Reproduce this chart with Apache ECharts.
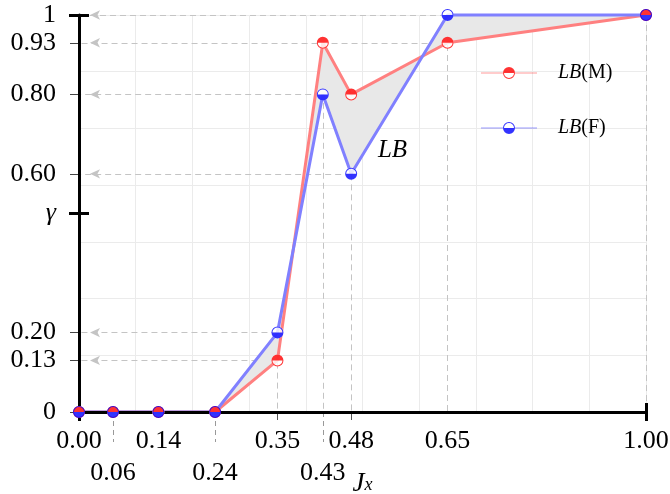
<!DOCTYPE html>
<html><head><meta charset="utf-8">
<script src="https://cdn.jsdelivr.net/npm/echarts@6/dist/echarts.min.js"></script>
<style>html,body{margin:0;padding:0;background:#fff}#c{width:670px;height:494px}</style>
</head><body><div id="c"></div>
<script>
// ---- data ----
const jx  = [0.00, 0.06, 0.14, 0.24, 0.35, 0.43, 0.48, 0.65, 1.00];
const lbM = [0, 0, 0, 0, 0.13, 0.93, 0.80, 0.93, 1.00];
const lbF = [0, 0, 0, 0, 0.20, 0.80, 0.60, 1.00, 1.00];
const seriesNames = ['LB(M)', 'LB(F)'];
const xTickRow1 = [0.00, 0.14, 0.35, 0.48, 0.65, 1.00];
const xTickRow2 = [0.06, 0.24, 0.43];
const xShortTicks = [0.35, 0.48];
const yTickValues = [0, 0.13, 0.20, 0.50, 0.60, 0.80, 0.93, 1];
const yTickLabels = ['0', '0.13', '0.20', 'γ', '0.60', '0.80', '0.93', '1'];
const yThickTicks = [0.50, 1];
const areaLabel = 'LB';

// ---- helpers ----
const FONT = 'Liberation Serif';
const ring = (cx) => `M${cx-6},6A6,6 0 1,1 ${cx+6},6A6,6 0 1,1 ${cx-6},6Z M${cx-5},6A5,5 0 1,0 ${cx+5},6A5,5 0 1,0 ${cx-5},6Z`;
const halfTop = (cx) => ` M${cx-6},6A6,6 0 0,1 ${cx+6},6Z`;
const halfBottom = (cx) => ` M${cx+6},6A6,6 0 0,1 ${cx-6},6Z`;
const legLines = 'M0,5.7L22,5.7L22,6.3L0,6.3Z M34,5.7L56,5.7L56,6.3L34,6.3Z ';
const symM = 'path://' + ring(6) + halfTop(6);
const symF = 'path://' + ring(6) + halfBottom(6);
const legM = 'path://' + legLines + ring(28) + halfTop(28);
const legF = 'path://' + legLines + ring(28) + halfBottom(28);

const ptsM = jx.map((x, i) => [x, lbM[i]]);
const ptsF = jx.map((x, i) => [x, lbF[i]]);

// guide lines derived from the data
const hG = {}, vG = {};
[...ptsM, ...ptsF].forEach(([x, y]) => {
  if (y > 0) {
    hG[y] = Math.max(hG[y] ?? -1, x);
    vG[x] = Math.max(vG[x] ?? -1, y);
  }
});
const guideData = [];
Object.keys(hG).forEach(k => guideData.push([
  {coord: [hG[k], +k], symbol: 'none'},
  {coord: [0, +k], symbol: 'arrow'}
]));
Object.keys(vG).forEach(k => guideData.push([
  {coord: [+k, vG[k]], symbol: 'none'},
  {coord: [+k, 0], symbol: 'none'}
]));

const yLabelFmt = (v) => {
  const i = yTickValues.findIndex(t => Math.abs(t - v) < 1e-9);
  const s = i >= 0 ? yTickLabels[i] : '';
  return s === 'γ' ? '{g|γ}' : s;
};

const hidden = {axisLine: {show: false, onZero: false}, axisTick: {show: false}, axisLabel: {show: false}, splitLine: {show: false}};
const ax = (o) => Object.assign({type: 'value', min: 0, max: 1}, JSON.parse(JSON.stringify(hidden)), o);

const chart = echarts.init(document.getElementById('c'));
chart.setOption({
  animation: false,
  grid: {left: 79, right: 24, top: 15, bottom: 82, containLabel: false, outerBoundsMode: 'none'},
  legend: {
    orient: 'vertical', left: 476, top: 58, itemWidth: 56, itemHeight: 12, itemGap: 35,
    selectedMode: false,
    data: [{name: seriesNames[0], icon: legM}, {name: seriesNames[1], icon: legF}],
    formatter: n => '{i|LB}' + n.slice(2),
    textStyle: {fontFamily: FONT, fontSize: 20, color: '#000', lineHeight: 12, padding: [0, 0, 0, 16],
      rich: {i: {fontFamily: FONT, fontStyle: 'italic', fontSize: 20, lineHeight: 12}}}
  },
  xAxis: [
    ax({position: 'bottom', interval: 0.1, z: 0, splitLine: {show: true, lineStyle: {color: '#ebebeb', width: 1}}}),
    ax({position: 'bottom',
        axisTick: {show: true, length: 8, customValues: xShortTicks, lineStyle: {color: '#555', width: 1}},
        axisLabel: {show: true, customValues: xTickRow1, formatter: v => v.toFixed(2), margin: 29, verticalAlign: 'middle',
          fontFamily: FONT, fontSize: 26, color: '#000'},
        name: '{j|J}{s|x}', nameLocation: 'middle', nameGap: 58,
        nameTextStyle: {rich: {
          j: {fontFamily: FONT, fontStyle: 'italic', fontSize: 27, color: '#000', lineHeight: 24, verticalAlign: 'top'},
          s: {fontFamily: FONT, fontStyle: 'italic', fontSize: 18, color: '#000', lineHeight: 18, verticalAlign: 'bottom'}
        }}}),
    ax({position: 'bottom',
        axisTick: {show: true, length: 30, customValues: xTickRow2, lineStyle: {color: '#999', width: 1, type: [5, 4]}},
        axisLabel: {show: true, customValues: xTickRow2, formatter: v => v.toFixed(2), margin: 61, verticalAlign: 'middle',
          fontFamily: FONT, fontSize: 26, color: '#000'}}),
    ax({position: 'bottom', z: 3.5,
        axisLine: {show: true, onZero: false, lineStyle: {color: '#000', width: 3}},
        axisTick: {show: true, length: 9, customValues: [0, 1], lineStyle: {color: '#000', width: 3}}}),
    ax({position: 'bottom', z: 3.5,
        axisTick: {show: true, inside: true, length: 9, customValues: [1], lineStyle: {color: '#000', width: 3}}})
  ],
  yAxis: [
    ax({position: 'left', interval: 1 / 7, z: 0, splitLine: {show: true, lineStyle: {color: '#ebebeb', width: 1}}}),
    ax({position: 'left',
        axisTick: {show: true, length: 9, customValues: yTickValues.filter(v => !yThickTicks.includes(v)), lineStyle: {color: '#444', width: 1}},
        axisLabel: {show: true, customValues: yTickValues, formatter: yLabelFmt, margin: 23,
          fontFamily: FONT, fontSize: 26, color: '#000',
          rich: {g: {fontFamily: FONT, fontStyle: 'italic', fontSize: 26, color: '#000'}}}}),
    ax({position: 'left', z: 3.5,
        axisLine: {show: true, onZero: false, lineStyle: {color: '#000', width: 3}},
        axisTick: {show: true, length: 10, customValues: yThickTicks, lineStyle: {color: '#000', width: 3}}}),
    ax({position: 'left', z: 3.5,
        axisTick: {show: true, inside: true, length: 10, customValues: yThickTicks, lineStyle: {color: '#000', width: 3}}})
  ],
  series: [
    {
      type: 'custom', name: 'gap', z: 2, silent: true, clip: false,
      xAxisIndex: 0, yAxisIndex: 0,
      data: [[0, 0]],
      renderItem: (params, api) => {
        const pts = [...ptsM.map(p => api.coord(p)), ...ptsF.map(p => api.coord(p)).reverse()];
        return {type: 'polygon', shape: {points: pts}, style: {fill: '#e8e8e8', stroke: null}};
      },
      markLine: {
        silent: true, z: 1, animation: false,
        symbol: ['none', 'arrow'], symbolSize: [7, 10], symbolOffset: [0, [0, 11]],
        label: {show: false}, emphasis: {disabled: true},
        itemStyle: {color: '#bdbdbd'},
        lineStyle: {color: '#c4c4c4', width: 1, type: [6, 4]},
        data: guideData
      },
      markPoint: {
        silent: true, symbol: 'circle', symbolSize: 0, itemStyle: {color: 'transparent'},
        label: {show: true, position: 'inside', formatter: areaLabel, fontFamily: FONT, fontStyle: 'italic', fontSize: 25, color: '#000'},
        data: [{coord: [0.553, 0.66]}]
      }
    },
    {type: 'line', name: 'mLine', data: ptsM, symbol: 'none', z: 3, clip: false, silent: true,
      lineStyle: {color: '#ff8080', width: 3}},
    {type: 'line', name: 'fLine', data: ptsF, symbol: 'none', z: 3, clip: false, silent: true,
      lineStyle: {color: '#8080ff', width: 3}},
    {type: 'scatter', name: 'bg', data: [...ptsM, ...ptsF], symbol: 'circle', symbolSize: 12, z: 4, clip: false, silent: true,
      itemStyle: {color: '#ffffff'}},
    {type: 'scatter', name: seriesNames[0], data: ptsM, symbol: symM, symbolSize: 12, z: 5, clip: false, silent: true,
      itemStyle: {color: '#ff0000', borderWidth: 0}},
    {type: 'scatter', name: seriesNames[1], data: ptsF, symbol: symF, symbolSize: 12, z: 6, clip: false, silent: true,
      itemStyle: {color: '#0000ff', borderWidth: 0}}
  ]
});
</script>
</body></html>
